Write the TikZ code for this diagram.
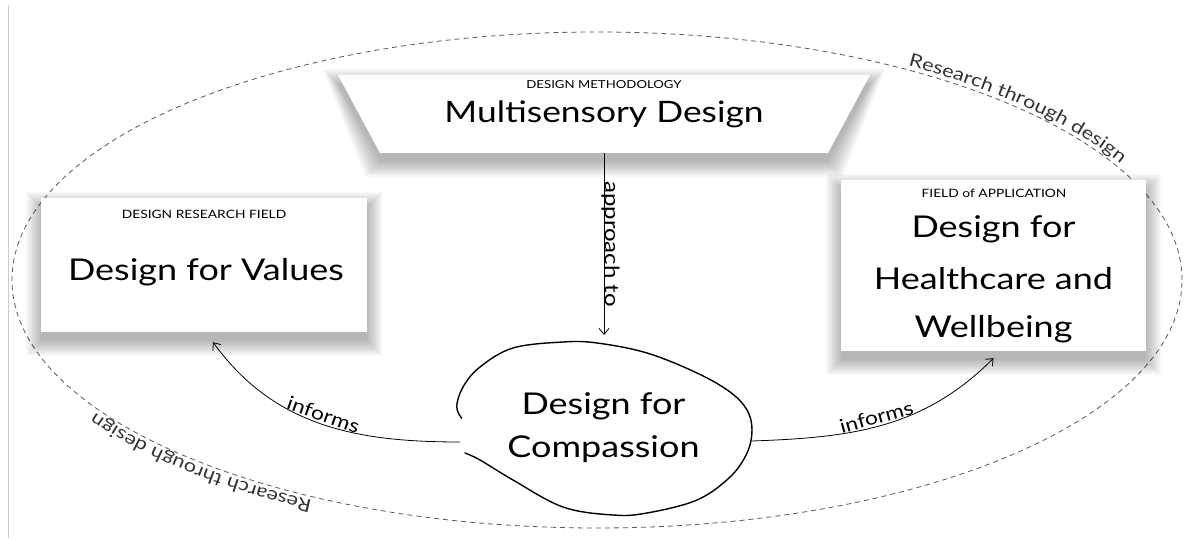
\documentclass[tikz,border=0pt]{standalone}
\usepackage{fontspec}
\setmainfont[FakeStretch=1.2]{Lato}
\usetikzlibrary{arrows.meta,decorations.text}
\newcommand{\rtdfont}{\fontsize{18}{20}\selectfont\color{black!80}}
\newcommand{\softshadowrect}[4]{%
  \foreach \d in {0,1.5,...,15}{%
    \fill[black, opacity=0.027] (#1-\d,#2-\d-9) rectangle (#3+\d,#4+\d-9);}}
\begin{document}
\begin{tikzpicture}[x=1pt,y=1pt,
  card/.style={fill=white, draw=none, inner sep=0pt},
  tag/.style={font=\fontsize{11.5}{13}\selectfont, inner sep=0pt, anchor=base},
  big/.style={font=\fontsize{30}{36}\selectfont, inner sep=0pt, anchor=base},
  lbl/.style={font=\fontsize{19}{22}\selectfont, inner sep=0pt},
  conn/.style={line width=0.8pt, -{Straight Barb[length=6pt,width=10pt]}},
  rtd/.style={draw=black!65, line width=0.8pt, dash pattern=on 5pt off 4pt},
  blobline/.style={line width=1.4pt, line cap=round}]
\useasboundingbox (0,0) rectangle (1196,538);
\fill[white] (0,0) rectangle (1196,538);
\draw[black!20, line width=0.8pt] (8,533) -- (8,0);

% outer dashed ellipse
\draw[rtd] (597,258) ellipse [x radius=585pt, y radius=248pt];
\path[decorate, decoration={text along path, text align={left}, raise=4pt,
   text={|\rtdfont|Research through design}}]
   (597,258) ++(58:585pt and 248pt) arc[start angle=58, end angle=5, x radius=585pt, y radius=248pt];
\path[decorate, decoration={text along path, text align={left}, raise=4pt,
   text={|\rtdfont|Research through design}}]
   (597,258) ++(241:585pt and 248pt) arc[start angle=241, end angle=190, x radius=585pt, y radius=248pt];

% shadows
\foreach \d in {0,1.5,...,15}{%
  \fill[black, opacity=0.027] (338-\d,463+\d-9) -- (870+\d,463+\d-9) -- (828+\d,385-\d-9) -- (380-\d,385-\d-9) -- cycle;}
\softshadowrect{41}{206}{367}{340}
\softshadowrect{841}{187}{1146}{358}

% design methodology (trapezoid)
\path[card] (338,463) -- (870,463) -- (828,385) -- (380,385) -- cycle;
\node[minimum width=448pt, minimum height=78pt, inner sep=0pt] (method) at (604,424) {};
\node[tag, font=\fontsize{11}{13}\selectfont] (methodtag) at (604,449) {DESIGN METHODOLOGY};
\node[big, font=\fontsize{29.5}{34}\selectfont] (methodtitle) at (604,415) {Multisensory Design};

% design for values
\node[card, minimum width=326pt, minimum height=134pt] (values) at (204,273) {};
\node[tag] (valuestag) at (204,319) {DESIGN RESEARCH FIELD};
\node[big] (valuestitle) at (206,257) {Design for Values};

% healthcare
\node[card, minimum width=305pt, minimum height=171pt] (health) at (993.5,272.5) {};
\node[tag] (healthtag) at (994,340) {FIELD of APPLICATION};
\node[big] (h1) at (993.5,300) {Design for};
\node[big] (h2) at (993.5,248) {Healthcare and};
\node[big] (h3) at (993.5,200) {Wellbeing};

% compassion blob
\draw[blobline] plot[smooth, tension=0.6] coordinates {(461.7,119.7) (456.7,131.3) (463,151) (480,171) (513,190) (563,196) (597,195) (647,185) (697,165) (730,146) (747,128) (752,108) (747,85) (730,61) (697,38) (647,25) (613,23) (563,31) (513,58) (480,78) (465,85)};
\node[big] (c1) at (603.5,123) {Design for};
\node[big] (c2) at (603.5,80) {Compassion};
\coordinate (cmpL) at (460,96);
\coordinate (cmpR) at (752,97);
\coordinate (cmpTop) at (604,203);

% connectors
\draw[conn] (method.south) -- node[lbl, font=\fontsize{20}{22}\selectfont, pos=0.5, sloped, above=-3pt] (lapproach) {approach to} (cmpTop);
\draw[conn] (cmpL) to[out=180, in=-54] node[lbl, pos=0.5, sloped, above=2pt] (linf) {informs} ([xshift=9pt,yshift=-10pt]values.south);
\draw[conn] (cmpR) to[out=2, in=-135] node[lbl, pos=0.48, sloped, above=2pt] (rinf) {informs} ([yshift=-7pt]health.south);
\end{tikzpicture}
\end{document}
